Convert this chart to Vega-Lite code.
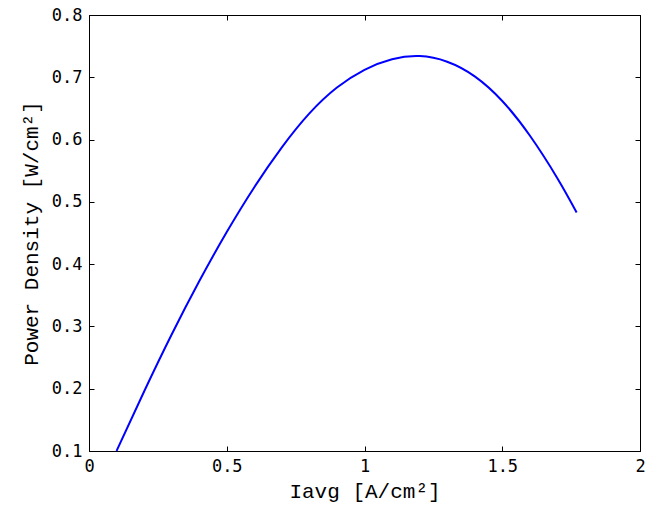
{
  "$schema": "https://vega.github.io/schema/vega-lite/v6.json",
  "width": 551,
  "height": 436,
  "autosize": "none",
  "padding": {"left": 89, "top": 15, "right": 15, "bottom": 55},
  "background": "white",
  "config": {
    "view": {"stroke": "black", "strokeWidth": 1},
    "axis": {
      "grid": false,
      "domain": true,
      "domainColor": "black",
      "tickColor": "black",
      "tickSize": -5,
      "labelFlush": false,
      "labelOverlap": false,
      "labelColor": "black",
      "labelFont": "DejaVu Sans Mono",
      "labelFontSize": 17,
      "titleFont": "Liberation Mono",
      "titleFontSize": 21,
      "titleFontWeight": "normal",
      "titleColor": "black"
    }
  },
  "data": {
    "values": [
      {"I": 0.10, "P": 0.1000},
      {"I": 0.20, "P": 0.1955},
      {"I": 0.30, "P": 0.2870},
      {"I": 0.40, "P": 0.3725},
      {"I": 0.50, "P": 0.4515},
      {"I": 0.60, "P": 0.5235},
      {"I": 0.70, "P": 0.5875},
      {"I": 0.80, "P": 0.6420},
      {"I": 0.90, "P": 0.6835},
      {"I": 1.00, "P": 0.7120},
      {"I": 1.10, "P": 0.7290},
      {"I": 1.20, "P": 0.7340},
      {"I": 1.30, "P": 0.7250},
      {"I": 1.40, "P": 0.7015},
      {"I": 1.50, "P": 0.6620},
      {"I": 1.60, "P": 0.6065},
      {"I": 1.70, "P": 0.5380},
      {"I": 1.77, "P": 0.4830}
    ]
  },
  "layer": [
    {
      "mark": {"type": "line", "color": "#0000ff", "strokeWidth": 2, "interpolate": "natural"},
      "encoding": {
        "x": {"field": "I", "type": "quantitative", "scale": {"domain": [0, 2], "nice": false},
          "axis": {"values": [0, 0.5, 1, 1.5, 2], "format": "~g", "title": "Iavg [A/cm²]", "labelPadding": 12, "titlePadding": 6}},
        "y": {"field": "P", "type": "quantitative", "scale": {"domain": [0.1, 0.8], "nice": false, "zero": false},
          "axis": {"values": [0.1, 0.2, 0.3, 0.4, 0.5, 0.6, 0.7, 0.8], "format": ".1f", "title": "Power Density [W/cm²]", "labelPadding": 12, "titlePadding": 10}}
      }
    },
    {
      "mark": {"type": "line", "opacity": 0},
      "encoding": {
        "x": {"field": "I", "type": "quantitative", "scale": {"domain": [0, 2], "nice": false},
          "axis": {"orient": "top", "values": [0, 0.5, 1, 1.5, 2], "labels": false, "title": null}},
        "y": {"field": "P", "type": "quantitative", "scale": {"domain": [0.1, 0.8], "nice": false, "zero": false},
          "axis": {"orient": "right", "values": [0.1, 0.2, 0.3, 0.4, 0.5, 0.6, 0.7, 0.8], "labels": false, "title": null}}
      }
    }
  ],
  "resolve": {"axis": {"x": "independent", "y": "independent"}}
}
